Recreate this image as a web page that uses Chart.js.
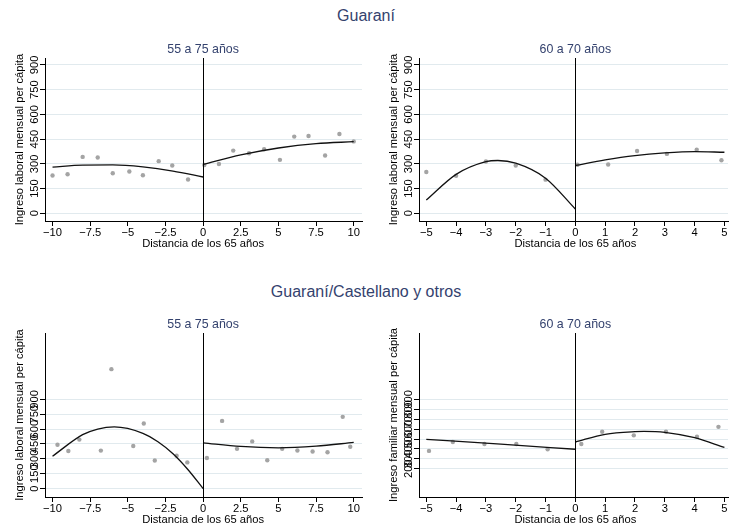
<!DOCTYPE html>
<html lang="es">
<head>
<meta charset="utf-8">
<title>Ingreso mensual per cápita y distancia de los 65 años</title>
<script src="https://cdn.jsdelivr.net/npm/chart.js@4.4.1/dist/chart.umd.min.js"></script>
<style>
  body { margin: 0; background: #fff; }
  #page { position: relative; width: 732px; height: 528px; font-family: "Liberation Sans", Arial, sans-serif; }
  .panel { position: absolute; width: 366px; height: 264px; }
  .grupo { position: absolute; left: 0; width: 732px; text-align: center; font-size: 16px; line-height: 16px; color: #34426e; }
</style>
</head>
<body>
<div id="page">
  <div class="grupo" style="top:8px">Guaraní</div>
  <div class="grupo" style="top:284px">Guaraní/Castellano y otros</div>
  <div class="panel" style="left:0;top:0"><canvas id="g1"></canvas></div>
  <div class="panel" style="left:366px;top:0"><canvas id="g2"></canvas></div>
  <div class="panel" style="left:0;top:264px"><canvas id="g3"></canvas></div>
  <div class="panel" style="left:366px;top:264px"><canvas id="g4"></canvas></div>
</div>

<script>
// ticks
const ticksX10 = [-10, -7.5, -5, -2.5, 0, 2.5, 5, 7.5, 10];
const labelsX10 = ['−10', '−7.5', '−5', '−2.5', '0', '2.5', '5', '7.5', '10'];
const ticksX5 = [-5, -4, -3, -2, -1, 0, 1, 2, 3, 4, 5];
const labelsX5 = ['−5', '−4', '−3', '−2', '−1', '0', '1', '2', '3', '4', '5'];
const ticksY150 = [0, 150, 300, 450, 600, 750, 900];
const labelsY150 = ['0', '150', '300', '450', '600', '750', '900'];
const ticksY100 = [200, 300, 400, 500, 600, 700, 800, 900];
const labelsY100 = ['200', '300', '400', '500', '600', '700', '800', '900'];

// Guaraní, 55 a 75 años
const gua5575X = [-10, -9, -8, -7, -6, -4.9, -4, -2.95, -2.05, -1, 0.08, 1.05, 2, 3.05, 4.05, 5.1, 6.05, 7, 8.1, 9.05, 10];
const gua5575Y = [229, 237, 342, 338, 243, 253, 231, 316, 290, 205, 293, 299, 380, 364, 388, 324, 465, 469, 350, 481, 436];
const gua5575IzqX = [-10, -8, -6, -4, -2, 0];
const gua5575IzqY = [280, 292, 293, 281, 256, 220];
const gua5575DerX = [0, 2.5, 5, 7.5, 10];
const gua5575DerY = [296, 354, 396, 423, 434];

// Guaraní, 60 a 70 años
const gua6070X = [-5, -4, -3, -2, -1, 0.07, 1.1, 2.07, 3.07, 4.07, 4.9];
const gua6070Y = [250, 228, 314, 290, 204, 294, 296, 378, 360, 386, 322];
const gua6070IzqX = [-5, -4, -3, -2.6, -2, -1, 0];
const gua6070IzqY = [80, 236, 313, 320, 304, 213, 26];
const gua6070DerX = [0, 1, 2, 3, 4, 5];
const gua6070DerY = [290, 324, 350, 366, 374, 370];

// Guaraní/Castellano y otros, 55 a 75 años
const mix5575X = [-9.67, -8.95, -8.22, -6.79, -6.09, -4.64, -3.94, -3.21, -1.76, -1.05,
                  0.25, 1.26, 2.25, 3.26, 4.26, 5.25, 6.26, 7.27, 8.26, 9.27, 9.77];
const mix5575Y = [443, 379, 494, 383, 1205, 430, 657, 284, 332, 264,
                  309, 683, 401, 476, 286, 401, 384, 374, 367, 724, 422];
const mix5575IzqX = [-10, -8, -7, -5.9, -4, -3, -2, -1, 0];
const mix5575IzqY = [327, 544, 601, 623, 558, 472, 351, 190, 0];
const mix5575DerX = [0, 2.5, 5, 7.5, 10];
const mix5575DerY = [462, 425, 411, 428, 466];

// Guaraní/Castellano y otros, 60 a 70 años
const mix6070X = [-4.91, -4.11, -3.05, -1.98, -0.93, 0.2, 0.9, 1.96, 3.04, 4.08, 4.8];
const mix6070Y = [380, 470, 450, 450, 397, 450, 573, 537, 573, 523, 623];
const mix6070IzqX = [-5, -2.5, 0];
const mix6070IzqY = [497, 448, 397];
const mix6070DerX = [0, 1, 2, 2.3, 3, 4, 5];
const mix6070DerY = [470, 548, 575, 577, 568, 513, 415];

const font = '"Liberation Sans", Arial, sans-serif';

function pairs(xs, ys) {
  return xs.map((x, i) => ({ x: x, y: ys[i] }));
}

// texts around each panel, drawn from the chart's own scales
const panelText = {
  id: 'panelText',
  afterDatasetsDraw(chart) {
    const { ctx, chartArea: a, scales: { x } } = chart;
    const x0 = Math.round(x.getPixelForValue(0)) + 0.5;
    ctx.save();
    ctx.strokeStyle = '#000';
    ctx.lineWidth = 1;
    ctx.beginPath();
    ctx.moveTo(x0, a.top);
    ctx.lineTo(x0, a.bottom);
    ctx.stroke();
    ctx.restore();
  },
  afterDraw(chart, args, o) {
    const { ctx, chartArea: a, scales: { x, y } } = chart;
    const xt = o.xTicks, yt = o.yTicks;
    const mid = (x.getPixelForValue(xt[0]) + x.getPixelForValue(xt[xt.length - 1])) / 2;
    ctx.save();
    ctx.fillStyle = '#000';
    ctx.font = '11.2px ' + font;
    ctx.textAlign = 'center';
    ctx.textBaseline = 'alphabetic';
    xt.forEach((v, i) => ctx.fillText(o.xLabels[i], x.getPixelForValue(v), a.bottom + 15));
    ctx.fillText('Distancia de los 65 años', mid, a.bottom + 25.5);

    yt.forEach((v, i) => {
      ctx.save();
      ctx.translate(a.left - 7.5, y.getPixelForValue(v));
      ctx.rotate(-Math.PI / 2);
      ctx.fillText(o.yLabels[i], 0, 0);
      ctx.restore();
    });
    ctx.save();
    ctx.translate(a.left - 22.5, (a.top + a.bottom) / 2);
    ctx.rotate(-Math.PI / 2);
    ctx.fillText(o.yTitle, 0, 0);
    ctx.restore();

    ctx.fillStyle = '#34426e';
    ctx.font = '12.4px ' + font;
    ctx.fillText(o.subtitle, mid, a.top - 5);
    ctx.restore();
  }
};

function makePanel(id, p) {
  const ctx = document.getElementById(id).getContext('2d');
  return new Chart(ctx, {
    type: 'scatter',
    data: {
      datasets: [
        { data: pairs(p.izqX, p.izqY), showLine: true, pointRadius: 0, borderColor: '#111', borderWidth: 1.3, cubicInterpolationMode: 'monotone' },
        { data: pairs(p.derX, p.derY), showLine: true, pointRadius: 0, borderColor: '#111', borderWidth: 1.3, cubicInterpolationMode: 'monotone' },
        { data: pairs(p.ptsX, p.ptsY), pointRadius: 2.2, pointBackgroundColor: '#a4a4a4', pointBorderWidth: 0 }
      ]
    },
    options: {
      responsive: true,
      maintainAspectRatio: false,
      animation: false,
      devicePixelRatio: 1,
      layout: { padding: { left: 0, right: p.right, top: p.top, bottom: 0 } },
      plugins: {
        legend: { display: false },
        tooltip: { enabled: false },
        panelText: { subtitle: p.subtitle, yTitle: p.yTitle, xTicks: p.xTicks, xLabels: p.xLabels, yTicks: p.yTicks, yLabels: p.yLabels }
      },
      scales: {
        x: {
          type: 'linear', min: p.xMin, max: p.xMax,
          afterBuildTicks: s => { s.ticks = p.xTicks.map(v => ({ value: v })); },
          afterFit: s => { s.height = p.xHeight; s.paddingLeft = 0; s.paddingRight = 0; },
          ticks: { display: false },
          grid: { drawOnChartArea: false, tickLength: 5, tickColor: '#000' },
          border: { color: '#000', width: 1 }
        },
        y: {
          type: 'linear', min: p.yMin, max: p.yMax,
          afterBuildTicks: s => { s.ticks = p.yTicks.map(v => ({ value: v })); },
          afterFit: s => { s.width = p.yWidth; s.paddingTop = 0; s.paddingBottom = 0; },
          ticks: { display: false },
          grid: { color: '#e1eaee', lineWidth: 1, tickLength: 5, tickColor: '#000' },
          border: { color: '#000', width: 1 }
        }
      }
    },
    plugins: [panelText]
  });
}

makePanel('g1', {
  subtitle: '55 a 75 años', yTitle: 'Ingreso laboral mensual per cápita',
  ptsX: gua5575X, ptsY: gua5575Y, izqX: gua5575IzqX, izqY: gua5575IzqY, derX: gua5575DerX, derY: gua5575DerY,
  xMin: -10.5, xMax: 10.55, xTicks: ticksX10, xLabels: labelsX10,
  yMin: -47, yMax: 942, yTicks: ticksY150, yLabels: labelsY150,
  yWidth: 45, xHeight: 43, top: 58, right: 3
});
makePanel('g2', {
  subtitle: '60 a 70 años', yTitle: 'Ingreso laboral mensual per cápita',
  ptsX: gua6070X, ptsY: gua6070Y, izqX: gua6070IzqX, izqY: gua6070IzqY, derX: gua6070DerX, derY: gua6070DerY,
  xMin: -5.245, xMax: 5.12, xTicks: ticksX5, xLabels: labelsX5,
  yMin: -47, yMax: 942, yTicks: ticksY150, yLabels: labelsY150,
  yWidth: 53, xHeight: 43, top: 58, right: 0
});
makePanel('g3', {
  subtitle: '55 a 75 años', yTitle: 'Ingreso laboral mensual per cápita',
  ptsX: mix5575X, ptsY: mix5575Y, izqX: mix5575IzqX, izqY: mix5575IzqY, derX: mix5575DerX, derY: mix5575DerY,
  xMin: -10.5, xMax: 10.55, xTicks: ticksX10, xLabels: labelsX10,
  yMin: -85, yMax: 1570, yTicks: ticksY150, yLabels: labelsY150,
  yWidth: 45, xHeight: 31, top: 69, right: 3
});
makePanel('g4', {
  subtitle: '60 a 70 años', yTitle: 'Ingreso familiar mensual per cápita',
  ptsX: mix6070X, ptsY: mix6070Y, izqX: mix6070IzqX, izqY: mix6070IzqY, derX: mix6070DerX, derY: mix6070DerY,
  xMin: -5.245, xMax: 5.12, xTicks: ticksX5, xLabels: labelsX5,
  yMin: -85, yMax: 1570, yTicks: ticksY100, yLabels: labelsY100,
  yWidth: 53, xHeight: 31, top: 69, right: 0
});
</script>
</body>
</html>
